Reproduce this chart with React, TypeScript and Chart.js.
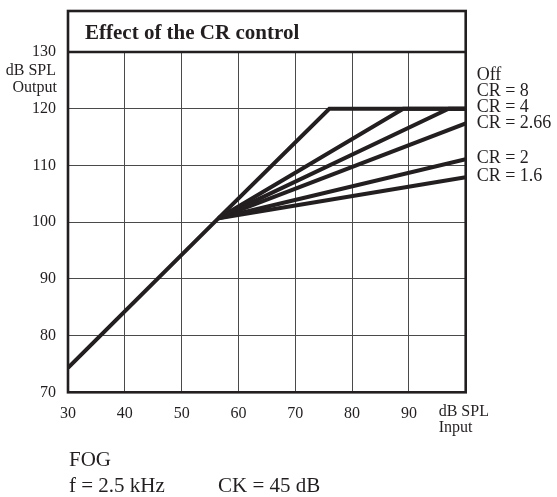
import React, { useEffect, useRef } from "react";
import { Chart, registerables } from "chart.js";

Chart.register(...registerables);

const KNEE_X = 56.5;
const KNEE_Y = 100.7;

const seriesLabels = ["Off", "CR = 8", "CR = 4", "CR = 2.66", "CR = 2", "CR = 1.6"];
const offX = [30, KNEE_X, 76, 100];
const offY = [74.3, KNEE_Y, 120, 120];
const cr8X = [KNEE_X, 89, 100];
const cr8Y = [KNEE_Y, 120, 120];
const cr4X = [KNEE_X, 97, 100];
const cr4Y = [KNEE_Y, 120, 120];
const cr266X = [KNEE_X, 100];
const cr266Y = [KNEE_Y, 117.4];
const cr2X = [KNEE_X, 100];
const cr2Y = [KNEE_Y, 111.1];
const cr16X = [KNEE_X, 100];
const cr16Y = [KNEE_Y, 107.9];

const xTicks = [30, 40, 50, 60, 70, 80, 90, 100];
const yTicks = [70, 80, 90, 100, 110, 120, 130];

const titleText = "Effect of the CR control";
const yAxisTitle = ["dB SPL", "Output"];
const xAxisTitle = ["dB SPL", "Input"];
const footLine1 = "FOG";
const footLine2a = "f = 2.5 kHz";
const footLine2b = "CK = 45 dB";

const INK = "#231f20";
const SERIF = "'Liberation Serif', 'Times New Roman', serif";

function pts(xs: number[], ys: number[]) {
  return xs.map((x, i) => ({ x, y: ys[i] }));
}

const decorPlugin = {
  id: "decor",
  afterDraw(chart: any) {
    const ctx = chart.ctx as CanvasRenderingContext2D;
    const ca = chart.chartArea;
    const xs = chart.scales.x;
    const ys = chart.scales.y;
    ctx.save();
    ctx.strokeStyle = INK;
    ctx.lineWidth = 2.6;
    const boxTop = 11;
    ctx.strokeRect(ca.left, boxTop, ca.right - ca.left, ca.bottom - boxTop);
    ctx.beginPath();
    ctx.moveTo(ca.left, ca.top);
    ctx.lineTo(ca.right, ca.top);
    ctx.stroke();

    ctx.fillStyle = INK;
    ctx.font = `bold 21px ${SERIF}`;
    ctx.textAlign = "left";
    ctx.textBaseline = "alphabetic";
    ctx.fillText(titleText, ca.left + 17, 38.5);

    ctx.font = `16px ${SERIF}`;
    ctx.textAlign = "right";
    ctx.textBaseline = "middle";
    ctx.fillText(yAxisTitle[0], ca.left - 12, 71);
    ctx.fillText(yAxisTitle[1], ca.left - 11, 87.5);

    ctx.textAlign = "left";
    const xr = xs.getPixelForValue(100);
    ctx.fillText(xAxisTitle[0], xr - 27, 412);
    ctx.fillText(xAxisTitle[1], xr - 27, 428);

    ctx.font = `18px ${SERIF}`;
    ctx.textAlign = "left";
    const lx = ca.right + 11;
    const ends = [cr266Y, cr2Y, cr16Y].map((a) => ys.getPixelForValue(a[a.length - 1]));
    const base = ends[0];
    const step = 16;
    ctx.fillText(seriesLabels[0], lx, base - 3 * step);
    ctx.fillText(seriesLabels[1], lx, base - 2 * step);
    ctx.fillText(seriesLabels[2], lx, base - step);
    ctx.fillText(seriesLabels[3], lx, ends[0]);
    ctx.fillText(seriesLabels[4], lx, ends[1] - 1);
    ctx.fillText(seriesLabels[5], lx, ends[2] - 1);

    ctx.font = `21px ${SERIF}`;
    ctx.textBaseline = "alphabetic";
    ctx.fillText(footLine1, ca.left + 1, 466);
    ctx.fillText(footLine2a, ca.left + 1, 492);
    ctx.fillText(footLine2b, ca.left + 150, 492);
    ctx.restore();
  },
};

export default function App() {
  const ref = useRef<HTMLCanvasElement | null>(null);
  useEffect(() => {
    if (!ref.current) return;
    const mk = (label: string, xs: number[], ys: number[]) => ({
      label,
      data: pts(xs, ys),
      borderColor: INK,
      backgroundColor: INK,
      borderWidth: 4,
      pointRadius: 0,
      fill: false,
      tension: 0,
    });
    const chart = new Chart(ref.current, {
      type: "line",
      data: {
        datasets: [
          mk(seriesLabels[0], offX, offY),
          mk(seriesLabels[1], cr8X, cr8Y),
          mk(seriesLabels[2], cr4X, cr4Y),
          mk(seriesLabels[3], cr266X, cr266Y),
          mk(seriesLabels[4], cr2X, cr2Y),
          mk(seriesLabels[5], cr16X, cr16Y),
        ],
      },
      options: {
        responsive: false,
        animation: false,
        events: [],
        layout: { padding: { left: 0, top: 52, right: 91.3, bottom: 74.7 } },
        plugins: { legend: { display: false }, tooltip: { enabled: false }, title: { display: false } },
        scales: {
          x: {
            type: "linear",
            min: 30,
            max: 100,
            afterBuildTicks: (s: any) => {
              s.ticks = xTicks.map((v) => ({ value: v }));
            },
            afterFit: (s: any) => {
              s.height = 30;
            },
            ticks: {
              color: INK,
              font: { family: SERIF, size: 16 },
              padding: 12,
              maxRotation: 0,
              autoSkip: false,
              callback: (v: any) => (v === 100 ? "" : String(v)),
            },
            grid: { color: "#4a4a4a", lineWidth: 1, drawTicks: false },
            border: { display: false },
          },
          y: {
            type: "linear",
            min: 70,
            max: 130,
            afterBuildTicks: (s: any) => {
              s.ticks = yTicks.map((v) => ({ value: v }));
            },
            afterFit: (s: any) => {
              s.width = 68;
            },
            ticks: {
              color: INK,
              font: { family: SERIF, size: 16 },
              padding: 12,
              autoSkip: false,
              callback: (v: any) => String(v),
            },
            grid: { color: "#4a4a4a", lineWidth: 1, drawTicks: false },
            border: { display: false },
          },
        },
      },
      plugins: [decorPlugin],
    } as any);
    return () => chart.destroy();
  }, []);
  return (
    <div style={{ position: "fixed", left: 0, top: 0, width: 557, height: 497, background: "#fff" }}>
      <canvas ref={ref} width={557} height={497} style={{ display: "block", width: 557, height: 497 }} />
    </div>
  );
}
